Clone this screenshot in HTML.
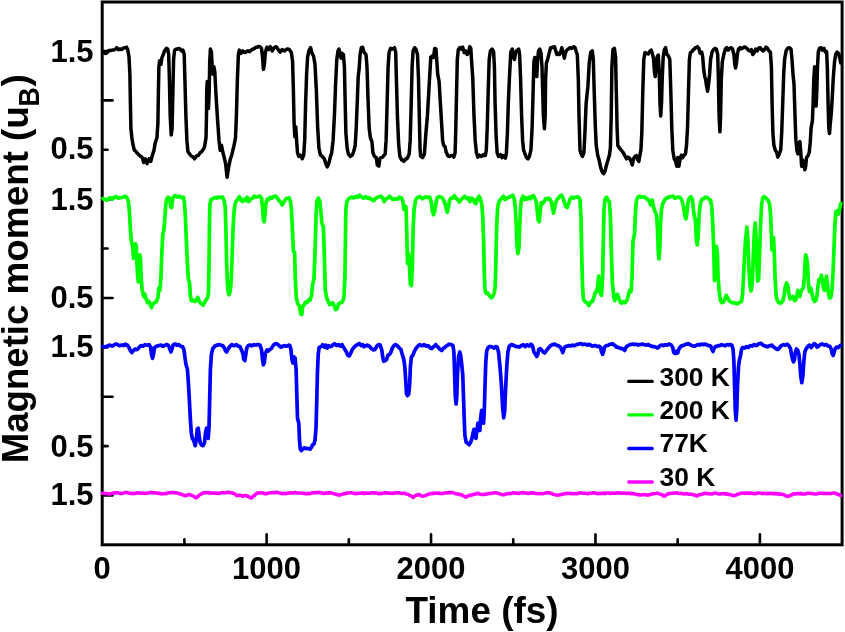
<!DOCTYPE html>
<html><head><meta charset="utf-8"><title>Magnetic moment vs time</title>
<style>
html,body{margin:0;padding:0;background:#fff;}
svg{display:block}
.b{font-family:"Liberation Sans",sans-serif;font-weight:bold;fill:#000}
</style></head><body>
<svg width="845" height="632" viewBox="0 0 845 632">
<rect width="845" height="632" fill="#fff"/>
<rect x="102.2" y="2.0" width="739.9" height="542.8" fill="none" stroke="#000" stroke-width="3"/>
<line x1="102.2" y1="51.01" x2="107.60000000000001" y2="51.01" stroke="#000" stroke-width="2.6" stroke-linecap="round"/>
<line x1="102.2" y1="100.40" x2="112.60000000000001" y2="100.40" stroke="#000" stroke-width="2.6" stroke-linecap="round"/>
<line x1="102.2" y1="149.79" x2="107.60000000000001" y2="149.79" stroke="#000" stroke-width="2.6" stroke-linecap="round"/>
<line x1="102.2" y1="199.18" x2="112.60000000000001" y2="199.18" stroke="#000" stroke-width="2.6" stroke-linecap="round"/>
<line x1="102.2" y1="248.57" x2="107.60000000000001" y2="248.57" stroke="#000" stroke-width="2.6" stroke-linecap="round"/>
<line x1="102.2" y1="297.96" x2="112.60000000000001" y2="297.96" stroke="#000" stroke-width="2.6" stroke-linecap="round"/>
<line x1="102.2" y1="347.35" x2="107.60000000000001" y2="347.35" stroke="#000" stroke-width="2.6" stroke-linecap="round"/>
<line x1="102.2" y1="396.74" x2="112.60000000000001" y2="396.74" stroke="#000" stroke-width="2.6" stroke-linecap="round"/>
<line x1="102.2" y1="446.13" x2="107.60000000000001" y2="446.13" stroke="#000" stroke-width="2.6" stroke-linecap="round"/>
<line x1="102.2" y1="495.52" x2="112.60000000000001" y2="495.52" stroke="#000" stroke-width="2.6" stroke-linecap="round"/>
<line x1="184.41" y1="544.8" x2="184.41" y2="539.4" stroke="#000" stroke-width="2.6" stroke-linecap="round"/>
<line x1="266.62" y1="544.8" x2="266.62" y2="534.4" stroke="#000" stroke-width="2.6" stroke-linecap="round"/>
<line x1="348.83" y1="544.8" x2="348.83" y2="539.4" stroke="#000" stroke-width="2.6" stroke-linecap="round"/>
<line x1="431.04" y1="544.8" x2="431.04" y2="534.4" stroke="#000" stroke-width="2.6" stroke-linecap="round"/>
<line x1="513.26" y1="544.8" x2="513.26" y2="539.4" stroke="#000" stroke-width="2.6" stroke-linecap="round"/>
<line x1="595.47" y1="544.8" x2="595.47" y2="534.4" stroke="#000" stroke-width="2.6" stroke-linecap="round"/>
<line x1="677.68" y1="544.8" x2="677.68" y2="539.4" stroke="#000" stroke-width="2.6" stroke-linecap="round"/>
<line x1="759.89" y1="544.8" x2="759.89" y2="534.4" stroke="#000" stroke-width="2.6" stroke-linecap="round"/>
<polyline points="102.9,52.6 104.0,52.4 105.1,53.4 106.1,53.3 107.4,52.4 108.6,50.9 109.5,50.4 110.4,50.5 111.3,50.3 112.3,50.1 113.5,50.0 114.7,49.6 115.7,49.0 116.7,47.7 118.4,49.6 119.3,49.1 120.2,48.9 121.2,49.6 122.1,49.1 123.3,48.3 124.5,47.7 125.5,47.7 126.5,47.2 127.7,49.6 129.0,57.0 129.9,74.2 130.4,103.6 130.9,128.2 131.9,138.0 133.1,145.3 134.4,150.2 135.6,150.9 136.8,152.7 138.0,153.9 139.3,155.2 140.2,156.2 141.2,156.5 142.2,157.6 143.7,162.5 145.4,158.8 147.1,163.7 149.1,158.8 150.8,161.3 152.0,156.4 154.0,150.2 155.2,142.9 156.9,138.0 157.9,123.3 158.4,91.3 158.9,66.8 159.6,60.7 160.9,64.4 161.8,58.2 163.3,54.5 164.5,50.9 166.3,48.4 167.7,49.1 168.7,54.5 169.4,79.1 170.2,115.9 171.2,135.0 172.1,128.2 172.9,91.3 173.6,59.4 174.6,50.1 176.1,49.1 177.1,49.3 178.0,48.4 179.8,48.7 181.5,50.9 182.9,50.1 184.2,54.5 184.9,79.1 185.9,115.9 186.9,140.4 187.9,151.5 189.6,153.9 190.8,155.6 192.0,156.4 193.3,157.1 194.5,158.8 196.2,156.4 197.2,155.5 198.2,155.6 200.1,152.7 201.8,151.5 204.3,147.8 206.0,138.0 206.5,115.9 206.7,91.3 207.2,81.5 208.0,91.3 208.5,108.5 209.2,91.3 209.7,61.9 210.4,49.1 211.4,52.1 212.1,64.4 212.9,74.2 213.9,66.8 214.8,71.7 215.8,91.3 217.3,115.9 219.0,140.4 220.2,150.2 221.5,145.3 222.7,151.5 224.2,157.6 225.6,163.7 227.1,177.2 228.6,167.4 230.1,160.1 232.0,153.9 234.0,145.3 235.5,138.0 236.4,115.9 237.4,79.1 238.4,54.5 239.4,50.1 241.1,53.3 242.8,50.9 243.8,51.8 244.8,52.6 246.0,52.2 247.2,50.9 248.5,51.1 249.7,51.6 250.9,50.3 252.1,49.6 253.4,48.9 254.6,48.4 255.8,47.3 257.1,47.2 258.3,46.6 259.5,46.7 260.0,46.7 261.5,48.4 262.5,57.0 263.4,69.3 264.4,64.4 265.4,52.1 266.9,47.2 268.6,49.6 270.3,46.7 272.3,50.9 274.2,47.7 275.2,47.1 276.2,46.7 278.2,49.6 280.1,52.1 282.1,49.6 283.3,50.2 284.5,50.9 285.8,49.7 287.0,49.1 288.2,49.1 289.4,49.6 291.4,52.6 292.6,61.9 293.4,91.3 294.1,123.3 294.8,136.7 295.8,126.9 296.6,140.4 297.5,152.7 298.8,156.4 300.5,155.2 302.2,158.8 303.7,155.2 304.7,140.4 305.6,103.6 306.6,74.2 307.6,57.0 309.1,50.1 310.6,47.7 312.0,53.3 313.5,55.8 315.0,64.4 316.4,91.3 317.7,128.2 318.9,147.8 320.4,155.2 321.3,155.5 322.3,156.4 324.3,158.8 325.8,163.7 327.2,166.9 328.7,163.7 330.2,157.6 331.7,152.7 333.1,140.4 334.4,115.9 335.6,84.0 336.8,59.4 338.0,50.9 339.0,49.1 340.0,53.3 341.0,58.2 342.0,53.3 343.4,54.5 344.4,66.8 345.2,103.6 345.9,133.1 347.1,147.8 348.3,153.9 350.3,156.4 351.3,155.7 352.3,155.2 353.7,151.5 355.2,145.3 356.2,128.2 357.2,103.6 358.2,76.6 359.1,69.3 360.1,54.5 361.3,47.7 362.6,47.2 364.0,52.1 366.0,54.5 367.0,66.8 368.0,98.7 369.2,128.2 370.4,138.0 371.9,141.7 372.9,152.7 374.4,156.4 375.3,156.8 376.3,157.6 377.3,165.0 378.8,166.2 379.8,158.8 380.7,157.7 381.7,157.6 382.7,157.0 383.7,155.6 385.2,153.9 386.1,140.4 387.1,103.6 388.1,66.8 389.1,52.1 390.6,48.4 391.5,48.8 392.5,49.1 393.5,48.6 394.5,47.7 395.7,52.1 396.4,79.1 397.4,115.9 398.7,145.3 399.9,156.4 401.8,160.1 402.8,160.3 403.8,161.3 405.8,158.8 406.7,158.8 407.7,157.6 409.2,153.9 410.2,140.4 411.2,103.6 412.1,66.8 413.1,50.9 414.6,47.7 416.1,49.6 417.5,54.5 418.5,79.1 419.3,115.9 420.0,147.8 420.0,147.8 420.7,156.4 422.5,157.6 424.4,153.9 425.9,133.1 427.4,115.9 428.8,91.3 429.8,74.2 430.8,57.0 432.3,55.8 433.5,57.5 434.7,48.4 436.0,49.1 436.7,59.4 437.7,74.2 439.1,81.5 440.1,98.7 441.6,123.3 442.6,140.4 443.6,145.3 445.0,146.6 446.0,151.5 447.5,155.2 448.5,156.2 449.4,156.4 450.7,155.6 451.9,155.6 452.9,156.2 453.9,157.1 455.1,152.7 455.8,128.2 456.6,91.3 457.3,59.4 458.3,49.6 459.8,47.7 461.2,49.1 462.7,47.2 464.2,52.6 465.6,50.9 467.1,54.5 468.6,52.1 469.8,46.7 470.8,48.4 471.5,59.4 472.8,79.1 474.0,115.9 475.2,140.4 476.4,152.7 477.9,157.1 479.4,155.2 480.4,156.0 481.3,156.4 482.3,155.8 483.3,154.7 484.3,155.6 485.3,155.6 486.3,150.2 487.2,128.2 488.2,91.3 489.2,59.4 490.4,50.9 492.1,49.1 493.6,51.6 494.4,66.8 495.1,103.6 496.1,135.5 497.1,152.7 498.5,156.4 499.5,155.4 500.5,154.7 502.0,157.6 503.4,155.6 505.4,158.1 506.4,152.7 507.4,133.1 508.3,103.6 509.6,74.2 510.8,52.1 512.3,49.1 513.3,57.0 514.5,59.4 515.7,52.1 517.2,50.1 518.7,49.1 519.6,54.5 520.6,79.1 521.6,115.9 522.6,140.4 523.6,150.2 525.0,153.9 526.5,157.6 528.0,158.8 529.4,156.4 530.9,150.2 532.1,128.2 533.1,91.3 533.9,61.9 534.8,57.5 535.8,66.8 536.8,76.6 537.5,61.9 538.5,50.9 539.8,49.1 541.0,53.3 542.0,66.8 542.7,91.3 543.4,115.9 544.4,128.7 545.2,115.9 545.6,79.1 546.4,63.1 547.6,59.4 549.1,53.3 550.6,47.7 551.5,47.8 552.5,47.2 553.5,47.1 554.5,46.7 555.7,50.9 556.9,54.5 558.2,53.3 559.4,54.5 560.6,52.1 561.8,47.7 563.3,53.3 564.3,58.2 565.3,53.3 566.7,50.1 568.2,49.1 569.7,47.7 570.7,47.8 571.7,48.4 572.6,47.6 573.6,46.7 575.1,47.7 576.3,52.1 577.3,54.5 578.3,79.1 579.0,115.9 580.0,150.2 580.0,150.2 581.0,153.9 582.5,156.4 583.9,152.7 584.9,133.1 586.1,103.6 587.9,86.4 589.3,61.9 590.8,52.1 592.3,50.9 593.3,59.4 594.2,91.3 595.2,123.3 596.2,145.3 597.7,155.2 599.1,160.1 600.6,167.4 602.1,171.8 603.6,173.6 605.0,171.1 606.5,165.0 608.0,160.1 609.4,155.2 610.4,147.8 611.2,115.9 611.9,66.8 612.9,49.6 614.4,48.4 615.6,57.0 616.3,91.3 617.1,128.2 617.8,145.3 619.3,147.8 621.2,150.2 623.2,152.7 625.2,156.4 626.6,158.8 628.1,157.1 629.6,158.1 631.0,161.3 632.3,165.0 633.5,158.8 635.0,156.4 636.4,155.6 637.9,160.1 638.9,161.3 639.9,155.2 640.9,150.2 641.8,133.1 642.8,91.3 643.8,59.4 645.0,52.6 646.7,53.3 648.2,54.0 649.7,51.6 651.2,50.1 652.6,54.5 653.6,59.4 654.4,71.7 655.3,76.6 656.1,66.8 657.1,57.0 658.3,55.0 659.3,74.2 660.0,103.6 660.7,115.9 661.5,103.6 662.2,79.1 663.2,57.0 664.4,49.6 665.6,47.7 666.9,54.5 668.3,55.8 669.8,59.4 670.8,91.3 671.8,128.2 672.8,150.2 674.2,158.8 675.7,161.3 676.7,166.2 677.7,157.6 678.9,166.2 680.1,158.8 681.3,155.2 682.6,157.6 684.0,155.2 685.5,153.9 686.5,145.3 687.5,128.2 688.5,91.3 689.4,59.4 690.4,52.6 691.9,51.6 693.4,49.6 694.4,49.1 695.3,47.7 696.3,47.6 697.3,46.7 698.8,48.4 700.2,53.3 701.7,52.1 702.7,57.0 703.7,69.3 704.7,76.6 705.6,79.1 706.6,86.4 707.6,91.3 708.6,84.0 709.6,74.2 710.6,59.4 712.0,52.1 713.5,49.6 715.0,48.4 716.4,49.1 717.7,54.5 718.4,79.1 719.1,115.9 719.9,131.8 720.6,115.9 721.3,79.1 722.3,61.9 723.8,54.5 725.3,49.1 726.7,47.7 728.2,50.1 729.7,48.4 731.2,47.7 732.6,49.1 733.9,54.5 734.8,64.4 735.6,68.0 736.6,61.9 737.5,53.3 738.5,49.1 740.0,47.7 740.0,49.1 741.0,48.8 742.0,48.4 742.9,47.9 743.9,47.2 744.9,46.9 745.9,47.7 746.9,48.4 747.9,49.6 748.8,50.6 749.8,50.9 751.3,49.6 752.8,54.5 754.2,52.6 755.7,49.1 757.2,50.9 758.6,48.4 760.1,47.7 761.6,49.6 763.1,50.9 764.5,49.6 766.0,47.2 767.5,48.4 768.9,50.9 770.4,52.1 771.4,66.8 772.1,103.6 772.9,133.0 773.9,145.3 775.3,150.2 776.8,152.7 777.8,157.1 779.3,153.9 780.7,150.2 781.7,133.0 782.7,103.6 783.7,74.2 784.6,59.4 786.1,50.9 787.6,48.4 788.6,47.9 789.6,47.7 791.0,49.1 792.0,59.4 793.0,74.2 794.0,84.0 795.0,115.9 795.9,140.4 796.9,150.2 797.9,153.9 798.9,142.9 799.9,141.6 800.8,152.7 801.6,166.2 802.6,160.0 803.5,162.5 804.8,169.8 805.7,166.2 806.5,157.6 807.7,156.3 809.2,152.7 810.2,142.9 811.1,128.1 812.4,120.8 813.1,103.6 813.8,79.1 814.6,66.8 815.3,79.1 816.1,106.1 816.8,91.3 817.5,66.8 818.3,52.1 819.5,48.4 821.0,47.7 822.4,50.1 823.9,48.4 825.4,52.1 826.6,51.6 827.3,66.8 828.1,103.6 828.8,128.1 829.5,133.5 830.3,123.2 831.3,113.4 832.2,98.7 833.2,79.1 834.5,61.9 835.7,54.5 837.1,52.1 838.6,53.3 839.8,58.2 840.8,63.1" fill="none" stroke="#000" stroke-width="3.5" stroke-linejoin="round" stroke-linecap="round"/>
<polyline points="102.9,198.4 103.9,199.2 104.9,199.1 106.1,200.1 107.4,200.1 108.6,198.5 109.8,197.7 111.0,198.0 112.3,199.1 113.3,198.5 114.2,197.2 115.2,197.2 116.2,196.7 117.2,197.6 118.2,198.2 119.4,197.7 120.6,197.7 121.8,197.5 123.1,197.2 124.3,196.8 125.5,196.2 127.0,197.7 128.5,202.1 129.4,211.9 130.4,229.1 131.4,241.3 132.6,246.3 133.6,258.5 134.6,251.2 135.3,243.8 136.3,246.3 136.8,261.0 137.5,273.3 138.3,281.8 139.0,265.9 139.8,254.8 140.5,258.5 141.2,278.2 142.2,290.4 143.7,296.6 144.9,294.1 146.1,299.0 147.6,302.7 149.1,301.5 150.6,305.2 151.5,307.6 153.0,303.9 154.5,302.7 155.5,302.2 156.4,301.5 157.9,297.8 158.9,288.0 159.9,290.4 160.9,278.2 161.8,253.6 162.8,234.0 163.8,230.3 164.8,219.3 165.8,204.5 166.7,199.1 168.2,197.2 169.7,198.4 170.7,207.0 171.7,207.5 172.6,199.6 173.6,196.7 174.6,195.9 175.6,195.7 176.6,196.4 177.5,197.2 178.5,196.6 179.5,196.2 180.5,197.2 181.5,197.7 182.5,197.9 183.4,197.2 184.4,202.1 185.4,216.8 186.4,241.3 187.4,263.4 188.3,278.2 189.6,283.1 190.3,295.3 191.3,300.7 192.3,300.9 193.3,300.2 194.2,300.9 195.2,301.5 196.7,299.8 197.7,297.3 198.7,300.2 200.1,302.7 201.6,303.9 203.1,305.2 204.5,302.7 206.0,299.8 207.5,297.8 208.5,292.9 209.0,265.9 209.4,229.1 209.9,204.5 210.9,199.6 211.9,199.1 212.9,198.7 213.9,197.9 214.8,197.7 215.8,197.5 216.8,198.2 217.8,197.2 218.8,197.2 219.8,197.4 220.7,197.7 221.7,197.2 222.7,197.2 224.2,200.9 225.2,207.0 225.9,229.1 226.6,261.0 227.4,283.1 228.1,291.7 229.1,294.8 230.1,291.7 231.0,283.1 232.0,261.0 233.0,229.1 234.0,211.9 235.0,204.5 236.4,200.9 237.9,199.1 239.4,196.7 240.9,200.1 242.3,201.6 244.3,199.1 245.8,200.6 247.2,197.2 248.7,201.6 250.2,199.6 251.2,198.9 252.1,198.4 253.1,197.7 254.1,196.2 255.1,196.7 256.1,197.2 257.1,197.0 258.0,196.7 259.0,196.2 260.0,196.2 260.0,196.2 261.5,197.7 262.5,207.0 263.4,220.5 264.2,221.7 265.2,211.9 266.1,202.1 267.4,199.1 268.8,199.6 270.3,197.2 271.8,198.2 273.3,196.7 274.7,196.2 275.7,196.2 276.7,197.2 278.7,200.1 279.6,200.9 280.6,202.1 282.1,205.0 283.6,202.6 285.5,199.6 286.5,198.5 287.5,198.2 289.0,197.7 290.4,200.9 291.4,209.4 292.4,229.1 293.4,251.2 294.6,252.4 295.3,278.2 296.3,297.8 297.8,303.9 299.3,305.6 300.7,313.7 301.7,314.5 302.7,306.4 304.2,304.7 305.6,302.2 307.1,302.7 308.6,299.8 310.1,300.2 311.5,295.3 312.5,285.5 314.0,278.2 315.0,253.6 316.0,216.8 316.9,200.9 318.4,198.2 319.9,201.6 320.9,211.9 321.8,222.9 323.3,226.6 324.3,253.6 325.3,290.4 326.7,297.8 328.2,301.5 329.7,304.7 331.2,303.9 332.6,302.7 334.1,305.6 335.6,309.6 337.1,308.8 338.5,303.9 339.5,303.3 340.5,302.7 341.5,302.6 342.5,301.5 343.9,297.8 344.9,278.2 345.4,241.3 345.9,209.4 346.9,201.6 348.3,199.1 349.3,198.6 350.3,197.7 351.3,197.1 352.3,197.2 353.3,197.8 354.2,197.7 355.2,197.2 356.2,196.2 357.2,196.9 358.2,197.2 359.6,195.2 360.6,196.4 361.6,196.7 362.6,197.7 363.6,198.2 364.5,197.7 365.5,196.7 366.5,197.3 367.5,198.2 368.5,198.4 369.4,197.7 370.4,198.9 371.4,199.1 372.4,199.7 373.4,200.9 374.4,200.0 375.3,198.7 376.3,198.1 377.3,197.2 378.3,196.9 379.3,196.7 380.2,196.5 381.2,196.2 382.7,198.4 384.2,201.6 385.6,199.1 386.6,198.6 387.6,198.2 388.6,197.6 389.6,196.2 390.6,197.2 391.5,198.2 392.5,199.2 393.5,199.6 394.5,199.0 395.5,198.7 396.4,199.3 397.4,199.1 398.4,198.6 399.4,197.2 400.4,197.4 401.3,197.7 402.8,200.9 403.8,209.4 404.8,205.8 406.0,207.0 406.7,229.1 407.5,263.4 408.5,253.6 409.4,265.9 410.4,284.3 411.4,285.5 412.4,265.9 413.1,229.1 414.1,209.4 415.6,200.1 417.1,197.7 418.5,197.2 420.0,196.7 420.0,196.7 421.0,197.7 422.0,198.7 422.9,198.6 423.9,197.7 424.9,197.4 425.9,196.7 426.9,197.2 427.9,197.7 428.8,197.1 429.8,197.2 431.3,202.1 432.3,210.7 433.5,214.8 434.7,211.9 435.7,204.5 437.2,197.7 438.2,197.0 439.1,196.7 440.1,197.1 441.1,197.2 442.1,197.8 443.1,199.1 444.5,202.1 446.0,207.0 447.2,212.4 448.5,207.0 449.4,200.9 450.9,198.2 451.9,198.3 452.9,197.7 454.4,195.7 456.3,198.7 457.8,199.6 459.3,202.1 461.2,199.6 462.2,198.4 463.2,197.7 464.7,196.2 466.6,198.7 468.1,197.7 470.1,201.6 471.5,198.2 473.0,198.7 474.5,202.6 476.0,203.6 477.4,198.7 478.9,196.2 480.4,198.7 481.8,204.5 482.8,216.8 483.6,241.3 484.3,273.3 485.0,290.4 486.3,293.4 487.7,292.9 489.2,295.3 491.2,297.8 492.6,296.8 494.1,293.4 495.1,288.0 495.8,265.9 496.6,229.1 497.5,209.4 498.5,203.3 500.0,200.1 502.0,197.7 503.4,196.2 504.9,199.6 505.9,199.3 506.9,198.2 507.9,197.5 508.8,197.2 509.8,197.1 510.8,196.2 511.8,195.9 512.8,195.2 514.2,198.7 515.2,207.0 516.2,224.2 516.9,243.8 517.9,253.6 518.9,248.7 519.6,229.1 520.6,207.0 521.6,199.1 523.1,196.2 524.5,199.6 526.0,197.7 527.5,199.1 529.0,197.2 530.4,198.7 531.9,196.2 533.4,195.7 534.8,198.2 536.3,202.1 537.3,211.9 538.3,220.5 539.3,221.7 540.2,211.9 541.2,202.6 542.7,203.6 544.2,201.6 545.6,198.7 547.1,199.1 548.6,198.2 550.1,199.6 551.5,202.1 552.5,208.2 553.5,213.1 554.5,208.2 555.5,203.3 556.9,199.6 558.4,198.2 559.9,196.2 561.3,195.2 562.8,197.2 564.3,202.1 565.8,206.5 567.2,207.5 568.7,203.3 570.2,198.7 571.7,197.2 572.6,197.7 573.6,198.2 574.6,197.7 575.6,197.2 576.6,197.1 577.5,196.7 579.0,197.7 580.0,199.6 580.0,199.6 581.0,216.8 581.7,253.6 582.5,285.5 583.4,299.0 584.9,301.5 585.9,302.2 586.9,302.7 588.8,305.6 590.3,302.7 591.3,301.9 592.3,301.5 593.7,297.8 595.2,292.4 596.7,291.7 597.7,285.5 598.7,276.2 599.6,283.1 600.6,294.1 601.6,295.3 602.6,278.2 603.3,241.3 604.0,209.4 605.0,199.1 606.5,197.2 608.0,199.6 609.4,202.1 610.4,216.8 611.4,253.6 612.4,283.1 613.9,297.8 614.8,300.7 616.3,295.3 617.3,294.1 618.8,297.8 620.2,302.2 621.7,303.2 623.2,301.7 624.2,301.9 625.2,302.7 627.1,300.2 628.6,294.1 629.6,290.4 631.0,291.7 632.0,278.2 633.0,241.3 634.5,234.0 635.5,211.9 636.4,200.9 637.9,197.2 638.9,196.7 639.9,196.2 640.9,197.1 641.8,197.2 642.8,197.1 643.8,196.7 644.8,197.0 645.8,198.2 646.7,199.0 647.7,199.1 649.7,202.1 650.7,205.0 652.1,200.1 653.6,207.0 655.1,211.9 656.6,215.6 657.5,229.1 658.3,253.6 659.0,259.0 659.8,248.7 660.5,224.2 661.5,209.4 662.9,203.3 664.9,199.6 665.9,198.9 666.9,197.7 667.9,197.8 668.8,197.2 669.8,196.6 670.8,196.7 671.8,196.7 672.8,196.2 673.7,196.7 674.7,198.2 675.7,198.1 676.7,197.7 677.7,197.2 678.7,197.2 679.6,197.4 680.6,198.2 682.1,200.9 683.6,207.0 685.0,216.8 686.0,218.8 687.0,211.9 688.0,202.1 689.4,197.7 690.9,196.7 692.4,199.6 693.4,209.4 694.4,216.8 695.3,219.3 696.3,238.9 697.3,245.0 698.3,234.0 699.3,211.9 700.7,202.1 702.2,199.1 703.2,199.0 704.2,198.2 705.2,197.3 706.1,197.2 707.6,197.7 709.1,199.6 710.6,200.1 711.8,207.0 712.8,224.2 713.7,248.7 714.5,280.6 715.5,265.9 716.4,246.3 717.4,253.6 718.2,278.2 719.1,290.4 720.4,300.2 721.8,302.7 723.3,302.2 724.8,299.0 726.3,295.3 727.7,297.8 729.2,300.7 730.2,301.5 731.2,302.2 732.1,302.8 733.1,302.7 734.1,302.7 735.1,303.2 736.1,303.3 737.1,303.9 738.0,303.7 739.0,302.7 740.0,302.2 740.0,302.2 741.5,301.4 742.5,295.3 743.4,278.1 744.4,258.5 745.6,238.9 746.9,227.1 747.9,238.9 748.8,265.9 749.8,283.0 751.0,290.9 752.3,283.0 753.2,258.5 754.2,234.0 755.2,222.9 756.2,238.9 756.9,265.9 757.7,281.1 758.6,279.4 759.6,253.6 760.6,224.2 761.6,204.5 762.8,197.7 764.0,196.7 765.0,197.3 766.0,198.2 767.0,199.4 768.0,200.1 769.4,203.3 770.4,211.9 771.2,229.1 771.9,249.9 772.9,246.2 773.6,237.7 774.3,253.6 775.1,278.1 776.1,295.3 777.3,300.7 778.8,302.7 779.7,302.4 780.7,303.2 781.7,302.2 782.7,301.4 784.2,295.3 785.1,287.9 786.6,283.0 787.8,285.5 788.8,292.9 790.0,299.0 791.5,297.8 793.0,296.5 794.5,300.7 795.9,299.7 796.9,295.3 797.9,290.4 798.9,294.1 799.9,296.5 800.8,291.6 802.3,289.2 803.3,287.9 804.3,278.1 805.0,263.4 805.7,254.8 806.7,258.5 807.7,265.9 808.4,283.0 809.4,291.6 810.7,287.9 811.9,292.9 813.1,299.0 814.6,301.4 816.1,300.2 817.0,295.3 818.0,285.5 819.0,279.4 820.2,280.6 821.4,275.2 822.4,280.6 823.4,287.9 824.4,290.4 825.4,283.0 826.4,276.2 827.3,283.0 828.3,292.9 829.5,298.2 830.8,297.3 832.0,290.4 833.0,273.2 834.0,248.7 834.9,224.2 835.9,211.9 837.1,210.7 838.1,214.3 839.1,210.7 840.1,207.0 840.8,203.3" fill="none" stroke="#00ff00" stroke-width="3.7" stroke-linejoin="round" stroke-linecap="round"/>
<polyline points="102.9,346.6 103.9,346.6 104.9,347.1 106.1,346.6 107.4,346.1 108.6,345.5 109.8,345.1 111.0,345.7 112.3,346.1 113.5,345.5 114.7,344.6 115.7,344.0 116.7,344.1 117.7,344.4 118.7,345.6 119.9,345.7 121.1,345.1 122.3,345.2 123.6,345.6 124.5,344.6 125.5,344.1 126.5,345.1 127.5,345.1 129.0,347.6 130.4,350.8 131.9,352.5 133.4,350.5 134.4,349.8 135.3,349.0 136.3,349.6 137.3,349.5 139.3,347.1 140.2,346.3 141.2,345.6 142.2,346.0 143.2,346.1 144.2,345.1 145.2,344.6 146.1,345.0 147.1,345.1 148.1,345.2 149.1,344.6 150.6,347.1 151.5,354.4 152.5,358.4 153.5,354.4 154.5,347.6 155.5,346.9 156.4,346.1 157.4,346.1 158.4,345.6 159.4,345.5 160.4,345.1 161.3,345.2 162.3,346.1 163.3,346.1 164.3,345.6 165.3,345.2 166.3,344.6 167.2,344.7 168.2,345.1 169.7,348.6 170.9,352.0 172.1,348.6 173.1,345.1 174.6,344.1 175.6,344.2 176.6,345.1 177.5,345.2 178.5,344.6 179.5,345.3 180.5,346.1 181.5,346.5 182.5,346.6 183.9,349.5 184.9,356.9 185.9,364.3 187.4,369.2 188.3,381.4 189.3,398.6 190.3,418.3 191.3,433.0 192.3,438.4 193.7,440.3 195.2,445.7 196.2,440.3 197.2,429.3 198.2,428.1 199.1,435.4 200.1,442.3 201.6,445.2 203.1,445.7 204.5,442.8 205.5,433.0 206.5,428.1 207.5,435.4 208.2,438.4 209.0,428.1 209.7,398.6 210.4,369.2 211.4,354.4 212.9,348.3 213.9,347.5 214.8,346.1 215.8,345.8 216.8,345.1 217.8,345.3 218.8,344.6 219.8,344.8 220.7,345.1 221.7,345.6 222.7,345.6 224.2,347.6 225.6,351.0 226.6,352.0 228.1,349.0 230.1,346.1 231.0,345.3 232.0,344.6 233.0,345.5 234.0,345.6 235.0,345.5 236.0,344.6 236.9,345.0 237.9,346.1 238.9,346.0 239.9,346.6 241.3,349.5 242.8,353.2 243.8,359.4 244.8,360.6 245.8,354.4 246.7,348.3 248.2,345.6 249.2,345.1 250.2,345.1 251.2,345.8 252.1,345.6 253.1,345.1 254.1,344.6 255.1,345.0 256.1,345.1 257.1,344.7 258.0,344.6 259.0,344.9 260.0,345.1 260.0,345.1 261.5,349.5 262.5,359.4 263.4,364.8 264.4,361.8 265.4,353.2 266.9,350.0 268.3,351.0 269.8,349.5 271.3,348.6 272.8,346.1 273.7,345.0 274.7,344.1 275.7,343.8 276.7,343.7 277.7,344.5 278.7,345.1 279.6,346.2 280.6,347.1 281.6,347.0 282.6,346.1 283.6,346.0 284.5,345.6 285.5,346.2 286.5,346.1 287.5,345.9 288.5,345.1 289.9,345.6 290.9,349.5 291.9,359.4 292.9,363.0 293.9,356.9 295.1,358.1 296.1,369.2 296.8,393.7 297.5,418.3 298.8,423.2 299.5,440.3 300.2,448.9 301.2,450.6 302.7,449.2 304.2,447.7 305.2,448.4 306.1,448.2 307.1,448.6 308.1,448.7 309.1,448.6 310.1,449.2 311.5,447.2 312.5,444.8 314.0,444.0 315.0,440.3 316.0,428.1 316.7,403.5 317.4,374.1 318.2,354.4 319.1,347.6 320.9,346.6 321.8,345.9 322.8,344.6 324.3,347.1 325.8,345.1 327.2,348.1 328.7,345.6 329.7,346.5 330.7,346.6 331.7,346.2 332.6,345.1 333.6,344.4 334.6,343.7 335.6,344.8 336.6,345.6 337.5,344.9 338.5,344.6 339.5,345.7 340.5,346.1 342.0,344.6 343.4,347.1 344.9,349.5 346.4,352.0 347.9,355.4 349.3,355.9 350.8,353.0 352.3,349.5 353.7,347.6 354.7,346.7 355.7,345.6 356.7,344.9 357.7,344.6 358.7,343.7 359.6,343.7 361.1,345.6 362.6,344.6 364.0,346.6 365.5,345.6 366.5,345.7 367.5,345.1 368.5,346.1 369.4,346.1 371.4,348.6 372.4,348.9 373.4,350.0 374.4,349.8 375.3,349.0 376.8,346.1 377.8,345.3 378.8,344.6 380.2,345.1 381.7,349.5 382.7,356.9 383.7,361.3 385.2,360.8 386.6,359.4 388.1,354.9 389.6,354.4 391.0,352.0 392.5,347.6 394.0,345.6 395.5,344.6 396.9,345.6 397.9,346.3 398.9,347.6 399.9,348.4 400.9,349.5 402.3,354.4 403.8,359.4 404.8,366.7 405.8,381.4 406.5,393.7 407.5,395.7 408.7,394.2 409.7,383.9 410.4,366.7 411.4,356.9 412.6,355.7 414.1,352.0 415.6,349.0 417.1,347.1 418.5,345.6 420.0,344.6 420.0,344.6 421.0,345.4 422.0,345.6 422.9,345.5 423.9,344.6 424.9,345.0 425.9,346.1 426.9,346.0 427.9,345.6 428.8,346.2 429.8,347.6 430.8,348.3 431.8,348.6 432.8,347.4 433.7,346.6 434.7,346.0 435.7,344.6 436.7,346.0 437.7,346.6 439.6,349.0 440.6,349.8 441.6,350.5 443.6,348.1 444.5,347.8 445.5,346.6 446.5,345.9 447.5,345.6 448.5,344.5 449.4,344.1 450.4,344.5 451.4,344.6 452.9,345.6 453.9,352.0 454.6,374.1 455.3,396.2 456.1,404.0 456.8,396.2 457.5,374.1 458.5,356.9 459.8,352.0 460.7,355.7 461.7,364.3 462.7,374.1 463.4,393.7 464.2,418.3 464.9,435.4 466.1,442.3 467.6,443.3 469.1,444.8 470.6,442.3 472.0,438.4 473.0,433.0 474.0,429.3 475.0,433.0 476.0,438.4 476.9,430.5 477.9,423.2 478.9,425.6 479.9,430.5 480.6,418.3 481.6,410.4 482.6,413.3 483.6,423.2 484.3,410.9 485.0,386.3 485.8,361.8 486.7,350.8 488.2,347.6 489.2,346.7 490.2,346.6 491.2,346.6 492.1,347.1 493.1,347.5 494.1,348.1 495.6,346.6 497.1,347.1 498.5,352.0 500.0,366.7 501.5,386.3 502.7,408.4 503.7,417.8 504.7,410.9 505.6,388.8 506.9,364.3 507.9,352.0 509.3,346.1 510.3,345.5 511.3,344.6 512.3,344.8 513.3,345.6 514.2,345.4 515.2,346.1 516.2,346.7 517.2,346.6 518.2,346.7 519.1,347.1 520.1,346.8 521.1,345.6 522.1,345.5 523.1,344.6 524.0,345.5 525.0,346.6 526.0,345.6 527.0,344.6 528.0,345.4 529.0,346.1 529.9,345.3 530.9,344.1 532.4,345.6 533.9,352.0 535.3,354.0 536.8,356.4 537.8,354.4 538.8,349.5 540.2,348.6 541.7,350.0 543.2,352.0 544.7,353.0 546.1,351.0 547.6,349.0 549.1,347.1 550.6,345.6 551.5,345.2 552.5,344.6 553.5,344.4 554.5,344.1 555.5,344.7 556.4,345.1 557.4,345.8 558.4,345.6 559.4,346.4 560.4,347.1 561.8,350.0 562.8,352.5 563.8,349.5 564.8,347.1 565.8,346.5 566.7,346.1 567.7,346.1 568.7,345.6 569.7,345.6 570.7,346.1 571.7,345.4 572.6,345.1 573.6,345.8 574.6,345.6 575.6,345.1 576.6,344.6 577.5,344.4 578.5,344.1 580.0,343.7 580.0,343.7 581.2,343.7 582.5,344.6 583.7,344.3 584.9,344.1 586.1,344.7 587.4,345.1 588.6,344.4 589.8,344.6 591.0,345.5 592.3,346.1 593.5,346.0 594.7,345.6 596.0,345.7 597.2,346.6 598.2,346.5 599.1,346.1 600.6,347.6 601.6,352.0 602.6,354.4 603.6,351.5 604.5,347.1 605.5,346.3 606.5,345.6 607.5,345.5 608.5,345.1 609.4,344.5 610.4,344.1 611.4,344.1 612.4,343.7 613.4,344.6 614.4,345.1 615.3,345.7 616.3,347.1 617.3,346.9 618.3,347.6 619.3,348.0 620.2,348.1 621.2,348.7 622.2,348.6 623.7,349.5 624.7,350.5 626.1,347.1 627.1,346.1 628.1,345.6 629.1,345.1 630.1,344.6 631.0,344.5 632.0,344.1 633.0,344.2 634.0,344.6 635.0,344.3 636.0,344.1 636.9,344.5 637.9,345.1 638.9,344.8 639.9,344.6 640.9,344.5 641.8,344.1 642.8,344.2 643.8,344.6 644.8,344.8 645.8,345.1 646.7,345.1 647.7,344.6 648.7,344.7 649.7,345.6 650.7,345.9 651.7,346.1 652.6,346.6 653.6,346.6 654.6,346.7 655.6,347.1 656.6,347.3 657.5,348.1 658.5,347.4 659.5,346.1 660.5,345.4 661.5,345.1 662.5,345.1 663.4,345.6 664.4,345.1 665.4,344.6 666.4,345.1 667.4,345.1 668.3,344.3 669.3,344.1 670.3,344.5 671.3,345.1 672.8,347.6 673.7,352.5 675.2,353.5 676.2,351.5 677.7,353.0 678.7,349.5 680.1,347.1 681.1,346.2 682.1,345.6 683.1,345.7 684.0,345.1 685.0,344.6 686.0,344.1 687.0,344.2 688.0,343.7 689.0,343.8 689.9,344.6 690.9,345.0 691.9,345.6 692.9,346.0 693.9,346.1 694.8,346.2 695.8,345.6 696.8,345.1 697.8,344.6 698.8,344.6 699.8,345.1 700.7,344.3 701.7,344.1 702.7,344.4 703.7,344.6 704.7,344.1 705.6,344.1 706.6,344.9 707.6,345.1 708.6,345.7 709.6,345.6 711.0,346.6 712.0,349.5 713.0,351.5 714.0,348.6 715.5,346.6 716.4,346.1 717.4,346.1 718.4,345.7 719.4,345.6 720.4,345.4 721.3,344.6 722.3,345.0 723.3,345.1 724.3,345.6 725.3,345.6 726.3,345.0 727.2,344.6 728.2,344.5 729.2,345.1 730.7,344.6 732.1,345.6 733.1,349.5 733.9,361.8 734.6,386.3 735.3,410.9 736.1,420.2 736.8,408.4 737.5,386.3 738.5,366.7 739.5,359.4 740.5,355.7 741.5,349.5 742.5,347.6 743.4,347.6 744.4,348.1 745.4,347.6 746.4,346.6 747.4,346.9 748.3,347.6 749.3,346.5 750.3,345.6 751.3,345.8 752.3,346.1 753.2,345.3 754.2,344.6 755.2,345.0 756.2,345.6 757.2,345.3 758.2,344.1 759.1,343.6 760.1,343.6 761.1,343.4 762.1,344.1 763.1,345.3 764.0,345.6 765.0,346.2 766.0,346.1 767.0,346.8 768.0,346.6 768.9,346.0 769.9,345.6 770.9,345.8 771.9,345.1 772.9,346.5 773.9,347.1 774.8,347.6 775.8,348.6 777.3,349.5 778.3,349.0 779.3,348.1 781.2,345.6 782.2,345.4 783.2,344.6 784.2,345.0 785.1,345.1 786.1,344.6 787.1,344.1 788.1,344.9 789.1,346.1 790.5,348.6 791.5,354.4 792.5,359.3 793.5,361.8 794.5,359.3 795.4,352.0 796.4,349.0 797.9,350.5 798.9,354.4 799.9,364.3 800.8,376.5 801.8,382.7 802.8,376.5 803.8,361.8 804.8,352.0 806.2,348.6 807.7,346.6 808.7,345.7 809.7,345.1 811.1,347.6 812.6,345.6 814.1,343.6 815.6,344.6 817.0,347.1 818.5,346.1 819.5,345.1 820.5,344.6 821.4,344.0 822.4,344.1 823.4,344.7 824.4,345.1 825.4,344.7 826.4,344.6 827.3,345.6 828.3,346.1 829.3,346.2 830.3,347.1 831.3,349.5 832.2,353.9 833.2,355.4 834.2,352.0 835.2,348.6 836.7,347.1 838.1,347.6 839.6,346.1 840.8,345.1" fill="none" stroke="#0000ff" stroke-width="3.7" stroke-linejoin="round" stroke-linecap="round"/>
<polyline points="102.4,493.3 103.3,493.2 104.2,493.2 105.2,493.5 106.1,493.4 107.0,493.5 107.9,493.8 108.9,493.9 109.9,494.0 110.8,493.8 111.8,493.5 112.8,493.0 113.8,493.0 114.8,492.8 115.8,492.7 116.8,492.7 117.8,492.8 118.7,492.9 119.7,493.5 120.7,493.3 121.7,493.4 122.7,493.3 123.7,493.1 124.7,492.5 125.6,492.5 126.6,492.5 127.6,492.7 128.6,493.0 129.6,493.3 130.6,493.5 131.6,493.2 132.5,493.6 133.5,493.6 134.5,493.5 135.5,493.2 136.5,492.8 137.5,492.9 138.5,492.8 139.4,492.6 140.4,493.3 141.4,493.3 142.4,493.2 143.4,493.1 144.4,493.3 145.4,493.5 146.4,493.1 147.3,493.2 148.3,493.0 149.3,492.6 150.3,492.5 151.3,492.5 152.3,492.7 153.3,492.7 154.2,492.6 155.2,492.8 156.2,493.0 157.2,493.4 158.2,493.0 159.2,493.2 160.2,493.7 161.1,493.6 162.1,493.9 163.1,493.8 164.1,493.6 165.1,493.4 166.1,493.7 167.1,493.0 168.0,493.0 169.0,492.9 170.0,492.6 171.0,492.8 172.0,492.5 173.0,492.5 174.0,492.5 175.1,492.9 176.2,492.8 177.3,493.2 178.4,493.3 179.5,494.1 180.6,494.0 181.7,494.4 182.8,495.1 183.8,495.1 184.8,495.7 185.8,495.7 186.8,495.4 187.8,494.7 188.8,494.5 189.9,494.8 191.1,495.1 192.3,495.7 193.3,496.2 194.2,496.4 195.2,497.4 196.2,497.8 197.1,497.2 198.1,496.3 199.1,495.1 200.1,494.7 201.1,494.3 202.1,493.3 203.2,492.8 204.3,492.8 205.4,493.0 206.5,492.5 207.5,492.7 208.5,492.6 209.5,493.1 210.5,492.9 211.4,493.2 212.4,493.0 213.4,493.0 214.4,492.9 215.4,493.2 216.4,493.0 217.4,493.2 218.3,493.3 219.3,493.6 220.3,493.0 221.3,492.7 222.3,492.6 223.3,492.6 224.3,492.8 225.2,492.9 226.2,492.6 227.2,492.5 228.2,492.3 229.2,492.8 230.2,492.5 231.3,492.8 232.4,493.0 233.5,493.3 234.6,493.9 235.7,494.5 236.7,495.7 237.7,495.3 238.7,495.4 239.6,495.1 240.6,495.3 241.6,495.6 242.6,496.3 243.6,496.0 244.6,495.5 245.6,495.4 246.5,496.2 247.5,495.9 248.5,496.6 249.5,497.1 250.5,497.8 251.5,498.1 252.7,496.8 253.8,495.7 254.8,495.3 255.8,494.1 256.8,493.3 257.9,493.0 259.0,493.0 260.1,492.6 261.2,492.8 262.4,492.9 263.5,493.0 264.6,493.7 265.7,493.6 266.7,493.7 267.7,493.3 268.6,492.9 269.6,492.9 270.6,492.7 271.6,492.8 272.6,492.5 273.6,492.5 274.6,492.9 275.5,492.3 276.5,492.2 277.5,492.5 278.5,493.0 279.5,492.9 280.5,493.4 281.5,493.2 282.4,493.7 283.4,493.6 284.4,493.6 285.4,493.6 286.4,493.5 287.4,493.2 288.4,492.9 289.3,493.0 290.3,492.7 291.3,493.1 292.3,493.0 293.3,493.0 294.3,492.4 295.3,492.5 296.3,492.7 297.2,492.9 298.2,492.9 299.2,493.1 300.2,493.0 301.2,493.0 302.2,493.3 303.2,493.4 304.1,493.2 305.1,493.7 306.1,493.9 307.1,493.6 308.1,493.2 309.1,493.7 310.1,493.5 311.0,493.2 312.0,492.6 313.0,492.8 314.0,493.0 315.0,492.4 316.0,492.9 317.0,492.7 317.9,492.2 318.9,492.5 319.9,492.4 320.9,492.8 321.9,492.9 322.9,493.2 323.9,493.5 324.9,493.3 325.8,493.0 326.8,492.8 327.8,493.3 328.8,492.6 329.8,493.1 330.8,492.8 331.9,492.8 333.0,493.6 334.1,493.8 335.2,493.9 336.3,494.5 337.4,494.6 338.5,495.1 339.6,495.1 340.6,494.6 341.6,494.6 342.6,494.2 343.8,493.7 345.0,493.7 346.2,493.0 347.1,493.2 348.1,492.9 349.0,492.8 350.0,492.8 350.0,492.8 351.0,492.6 352.0,492.7 353.0,493.3 353.9,493.3 354.9,493.7 355.9,493.6 356.9,493.6 357.9,493.2 358.9,493.2 359.9,493.4 360.8,493.2 361.8,493.0 362.8,492.8 363.8,493.4 364.8,493.4 365.8,493.0 366.8,493.3 367.8,493.3 368.7,493.2 369.7,493.3 370.7,492.9 371.7,492.8 372.7,492.8 373.7,492.8 374.7,493.2 375.6,492.8 376.6,492.9 377.6,493.4 378.6,493.8 379.6,493.6 380.6,493.5 381.6,493.3 382.5,493.4 383.5,493.2 384.5,492.6 385.5,492.8 386.5,493.1 387.5,492.7 388.5,492.9 389.4,493.4 390.4,493.2 391.4,493.3 392.4,493.5 393.4,492.9 394.4,493.3 395.4,492.7 396.4,492.6 397.3,492.8 398.3,492.8 399.3,492.8 400.3,493.1 401.3,493.4 402.3,493.4 403.3,493.3 404.4,493.2 405.5,493.7 406.6,494.0 407.7,494.2 408.7,494.7 409.7,495.4 410.7,495.7 412.0,496.6 413.3,497.5 414.3,496.4 415.3,495.7 416.3,495.1 417.4,495.2 418.4,494.6 419.5,494.5 420.5,495.3 421.5,496.1 422.5,496.3 423.4,496.1 424.4,495.8 425.4,495.5 426.3,495.1 427.5,494.5 428.7,494.4 429.9,493.6 430.9,493.5 431.9,493.7 432.8,493.2 433.8,493.5 434.8,493.3 435.8,493.0 436.8,493.2 437.8,493.2 438.8,493.1 439.7,493.6 440.7,493.4 441.7,493.6 442.7,493.6 443.7,493.1 444.7,492.9 445.7,492.8 446.6,493.1 447.6,492.8 448.7,492.5 449.9,492.9 451.0,492.4 452.1,492.5 453.2,492.9 454.3,493.1 455.4,493.6 456.5,493.9 457.6,493.8 458.7,494.2 459.8,494.7 460.9,494.5 461.9,494.9 462.9,495.8 463.9,496.3 464.9,496.6 466.0,497.2 467.0,496.6 467.9,495.9 468.9,495.7 469.9,495.1 470.9,495.4 471.8,495.1 472.8,494.5 473.9,494.4 475.0,494.1 476.1,494.0 477.2,493.3 478.3,493.4 479.4,494.0 480.5,494.2 481.7,494.5 482.8,494.4 483.9,494.5 485.0,494.3 486.1,493.9 487.1,494.1 488.1,493.4 489.1,493.6 490.0,493.5 491.0,493.4 492.0,493.0 493.1,493.1 494.2,493.1 495.3,492.7 496.4,492.8 497.6,493.4 498.7,493.4 499.8,493.9 500.9,494.2 501.9,494.7 502.9,494.8 503.8,494.8 505.0,494.4 506.1,494.0 507.2,493.8 508.3,493.6 509.3,493.6 510.3,493.7 511.2,493.5 512.2,493.0 513.2,492.8 514.2,492.8 515.3,493.2 516.4,493.0 517.5,493.4 518.6,493.6 519.7,493.0 520.9,492.8 522.0,492.8 523.1,492.5 524.2,492.8 525.3,493.0 526.4,493.0 527.5,493.3 528.5,493.6 529.5,493.2 530.5,492.8 531.5,492.6 532.4,493.2 533.4,492.8 534.4,493.3 535.4,493.4 536.4,493.4 537.4,493.4 538.4,493.5 539.3,493.9 540.3,493.6 541.3,493.4 542.3,493.8 543.3,493.6 544.3,493.4 545.3,493.0 546.4,492.7 547.5,492.7 548.6,492.7 549.7,492.8 550.8,493.5 551.9,493.4 553.0,494.3 554.1,494.5 555.3,494.8 556.4,494.9 557.5,495.3 558.6,495.1 559.7,494.7 560.8,494.7 561.9,494.2 563.0,494.2 564.0,493.8 565.0,493.6 566.0,493.7 567.0,493.4 567.9,493.2 568.9,493.3 569.9,493.7 570.9,493.3 571.9,493.8 572.9,493.7 573.9,493.8 574.9,493.6 575.8,493.6 576.8,493.7 577.8,493.5 578.8,493.2 579.8,492.9 580.8,492.8 581.8,493.0 582.7,493.2 583.7,493.2 584.7,493.3 585.7,493.2 586.7,493.6 587.7,493.8 588.7,493.4 589.6,493.0 590.6,493.0 591.6,493.4 592.6,493.0 593.8,492.7 595.0,492.8 595.0,493.3 596.0,493.3 597.0,493.6 598.0,493.7 598.9,493.4 599.9,493.5 600.9,493.6 601.9,493.5 602.9,493.1 603.9,493.6 604.9,492.9 605.8,493.5 606.8,493.0 607.8,492.9 608.8,492.9 609.8,493.4 610.8,493.5 611.8,493.1 612.8,493.3 613.7,493.3 614.7,493.1 615.7,493.2 616.7,492.7 617.7,493.1 618.7,492.8 619.7,493.1 620.6,493.0 621.6,493.2 622.6,493.3 623.6,492.9 624.6,493.0 625.6,493.3 626.6,493.4 627.5,493.3 628.5,493.0 629.5,493.4 630.5,493.3 631.6,493.8 632.7,493.5 633.8,493.9 634.9,493.9 636.1,494.5 637.2,494.6 638.3,494.5 639.4,495.1 640.5,495.1 641.6,494.7 642.7,494.9 643.8,494.5 644.9,494.8 646.0,494.7 647.1,495.2 648.3,495.1 649.4,494.8 650.5,494.3 651.6,494.2 652.7,493.6 653.8,493.8 654.9,493.6 656.0,493.5 657.1,493.0 658.2,493.5 659.3,493.9 660.5,494.2 661.6,494.5 662.8,495.4 663.9,496.3 665.3,495.8 666.6,494.5 667.6,494.1 668.5,493.6 669.5,493.8 670.4,493.3 671.4,493.3 672.4,493.3 673.4,493.3 674.4,493.0 675.4,492.9 676.4,493.0 677.3,492.8 678.3,493.4 679.3,493.6 680.3,493.6 681.3,493.3 682.3,493.6 683.3,494.0 684.3,494.0 685.2,493.8 686.2,493.5 687.2,494.1 688.2,493.9 689.3,494.2 690.4,494.3 691.5,494.0 692.6,494.5 693.7,495.1 694.9,494.9 696.0,495.6 697.1,496.0 698.1,495.3 699.0,494.9 700.0,494.5 701.1,494.5 702.2,494.1 703.4,493.9 704.5,493.3 705.5,493.3 706.4,493.5 707.4,493.7 708.4,493.4 709.4,493.8 710.4,493.9 711.5,494.0 712.6,493.7 713.7,493.5 714.8,493.0 715.9,493.1 717.0,493.6 718.2,493.9 719.3,493.9 720.2,494.0 721.2,493.8 722.2,493.6 723.2,493.4 724.2,494.0 725.2,493.6 726.3,494.2 727.4,493.9 728.5,494.5 729.6,494.5 730.7,494.8 731.8,495.2 732.9,495.7 734.1,495.7 735.0,495.2 736.0,495.0 737.0,494.5 738.1,494.1 739.2,493.9 740.3,493.3 741.4,493.3 742.4,493.1 743.4,493.1 744.4,493.5 745.4,492.9 746.4,493.3 747.4,493.0 748.4,492.9 749.3,493.6 750.3,493.1 751.3,493.2 752.3,493.3 753.3,493.6 754.3,493.8 755.3,493.6 756.2,493.6 757.2,493.2 758.2,492.9 759.2,493.0 760.2,493.0 761.2,493.2 762.2,493.7 763.1,493.2 764.1,493.4 765.1,493.6 766.1,493.8 767.1,493.3 768.1,493.8 769.1,493.3 770.0,493.4 771.0,493.3 772.0,493.6 773.0,493.8 774.0,493.3 775.0,494.0 776.0,493.6 777.0,493.9 777.9,494.2 778.9,493.8 779.9,494.4 780.9,494.1 781.9,494.2 782.9,494.5 783.8,494.6 784.8,495.3 785.8,495.7 786.7,496.3 787.7,496.4 788.7,496.0 789.7,495.7 790.7,495.1 791.6,495.1 792.6,494.2 793.6,493.8 794.6,493.7 795.7,494.0 796.7,493.8 797.7,493.3 798.6,493.6 799.6,493.9 800.6,493.3 801.6,494.0 802.6,494.0 803.6,493.9 804.6,494.0 805.6,494.0 806.5,493.4 807.5,493.3 808.5,493.2 809.5,493.3 810.5,493.4 811.5,493.6 812.5,493.7 813.4,493.6 814.4,494.0 815.4,493.9 816.4,494.1 817.4,493.9 818.4,493.3 819.4,493.3 820.3,493.2 821.3,493.3 822.3,493.2 823.3,493.5 824.3,493.3 825.3,493.6 826.3,493.5 827.2,493.6 828.4,493.5 829.5,493.6 830.6,493.7 831.7,493.3 832.9,493.0 834.1,493.0 835.2,493.0 836.2,493.9 837.2,493.8 838.2,494.5 839.4,494.8 840.6,495.7" fill="none" stroke="#ff00ff" stroke-width="3.5" stroke-linejoin="round" stroke-linecap="round"/>
<text x="93.5" y="62.0" font-size="31" text-anchor="end" class="b">1.5</text>
<text x="93.5" y="158.7" font-size="31" text-anchor="end" class="b">0.5</text>
<text x="93.5" y="209.9" font-size="31" text-anchor="end" class="b">1.5</text>
<text x="93.5" y="307.6" font-size="31" text-anchor="end" class="b">0.5</text>
<text x="93.5" y="356.7" font-size="31" text-anchor="end" class="b">1.5</text>
<text x="93.5" y="456.8" font-size="31" text-anchor="end" class="b">0.5</text>
<text x="93.5" y="505.1" font-size="31" text-anchor="end" class="b">1.5</text>
<text x="102.2" y="578.6" font-size="31" text-anchor="middle" class="b">0</text>
<text x="266.6" y="578.6" font-size="31" text-anchor="middle" class="b">1000</text>
<text x="431.0" y="578.6" font-size="31" text-anchor="middle" class="b">2000</text>
<text x="595.5" y="578.6" font-size="31" text-anchor="middle" class="b">3000</text>
<text x="759.9" y="578.6" font-size="31" text-anchor="middle" class="b">4000</text>
<text x="482" y="623.4" font-size="36.9" text-anchor="middle" class="b">Time (fs)</text>
<text transform="translate(28,463.3) rotate(-90) scale(0.979,1)" font-size="37.4" class="b">Magnetic</text>
<text transform="translate(28,294.5) rotate(-90) scale(0.987,1)" font-size="37.4" class="b">moment</text>
<text transform="translate(28,141) rotate(-90) scale(0.99,1)" font-size="37.4" class="b">(u</text>
<text transform="translate(38.8,106.4) rotate(-90) scale(0.9,1)" font-size="29.5" class="b">B</text>
<text transform="translate(28,86.5) rotate(-90) scale(0.99,1)" font-size="37.4" class="b">)</text>
<line x1="628.8" y1="381.4" x2="652.2" y2="381.4" stroke="#000" stroke-width="3.4" stroke-linecap="round"/>
<text x="659.5" y="385.6" font-size="26.4" class="b">300 K</text>
<line x1="628.8" y1="414.9" x2="652.2" y2="414.9" stroke="#00ff00" stroke-width="3.4" stroke-linecap="round"/>
<text x="659.5" y="418.8" font-size="26.4" class="b">200 K</text>
<line x1="628.8" y1="448.5" x2="652.2" y2="448.5" stroke="#0000ff" stroke-width="3.4" stroke-linecap="round"/>
<text x="659.5" y="452.3" font-size="26.4" class="b">77K</text>
<line x1="628.8" y1="482.0" x2="652.2" y2="482.0" stroke="#ff00ff" stroke-width="3.4" stroke-linecap="round"/>
<text x="659.5" y="485.6" font-size="26.4" class="b">30 K</text>
</svg>
</body></html>
